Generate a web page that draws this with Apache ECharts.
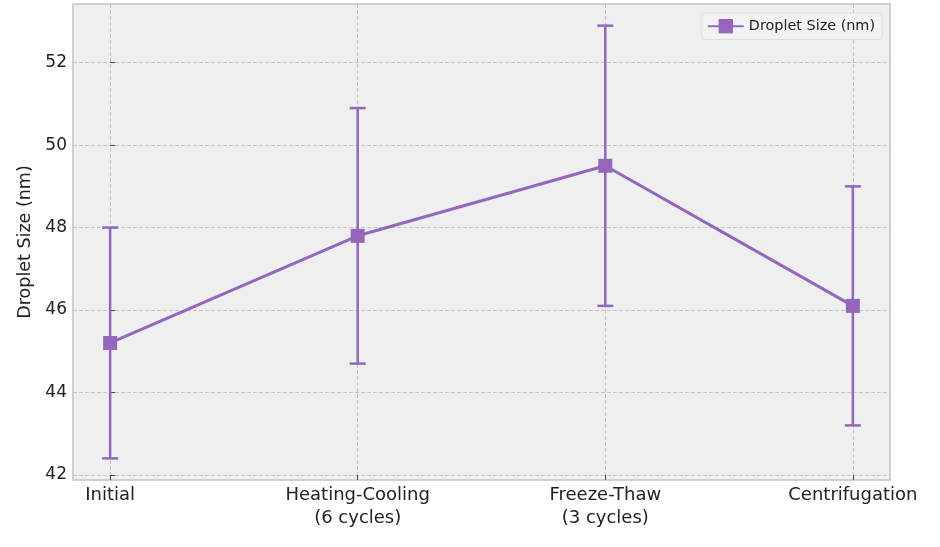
<!DOCTYPE html>
<html>
<head>
<meta charset="utf-8">
<script src="https://cdn.jsdelivr.net/npm/echarts@6/dist/echarts.min.js"></script>
<style>
  html, body { margin: 0; padding: 0; background: #fff; }
  #chart { width: 940px; height: 547px; }
</style>
</head>
<body>
<div id="chart"></div>
<script>
// data
var categories = ['Initial', 'Heating-Cooling\n(6 cycles)', 'Freeze-Thaw\n(3 cycles)', 'Centrifugation'];
var meanSize = [45.2, 47.8, 49.5, 46.1];
var errSize = [2.8, 3.1, 3.4, 2.9];
var yTicks = [42, 44, 46, 48, 50, 52];
var xTicks = [0, 1, 2, 3];

var purple = '#9467bd';
var font = 'DejaVu Sans';

var lineData = [];
var errData = [];
for (var i = 0; i < meanSize.length; i++) {
    lineData.push([i, meanSize[i]]);
    errData.push([i, meanSize[i] - errSize[i], meanSize[i] + errSize[i]]);
}

var chart = echarts.init(document.getElementById('chart'));
var option = {
    backgroundColor: '#ffffff',
    textStyle: { fontFamily: font },
    grid: {
        left: 73, right: 50, top: 4, bottom: 67,
        show: true,
        backgroundColor: '#efefef',
        borderColor: '#d0d0d0',
        borderWidth: 2
    },
    legend: {
        top: 13, right: 58,
        data: ['Droplet Size (nm)'],
        backgroundColor: '#f3f3f3',
        borderColor: '#dcdcdc',
        borderWidth: 1,
        borderRadius: 3,
        padding: [6, 7, 6, 5],
        itemWidth: 36, itemHeight: 18,
        itemGap: 8,
        textStyle: { fontFamily: font, fontSize: 14.4, color: '#222' }
    },
    xAxis: {
        type: 'value',
        min: -0.15, max: 3.15,
        axisLine: { show: false },
        axisTick: { show: true, inside: true, length: 5, customValues: xTicks, lineStyle: { color: '#444' } },
        axisLabel: {
            customValues: xTicks,
            margin: 4,
            fontSize: 18, color: '#222', lineHeight: 23,
            formatter: function (v) { return categories[Math.round(v)]; }
        },
        splitLine: { show: true, lineStyle: { type: 'dashed', color: '#c4c4c4', width: 1 } }
    },
    yAxis: {
        type: 'value',
        min: 41.875, max: 53.425,
        name: 'Droplet Size (nm)',
        nameLocation: 'middle',
        nameGap: 36,
        nameTextStyle: { fontFamily: font, fontSize: 17.5, color: '#222' },
        axisLine: { show: false },
        axisTick: { show: true, inside: true, length: 5, customValues: yTicks, lineStyle: { color: '#444' } },
        axisLabel: { customValues: yTicks, margin: 6, fontSize: 17, color: '#222' },
        splitLine: { show: true, lineStyle: { type: 'dashed', color: '#c4c4c4', width: 1 } }
    },
    series: [
        {
            name: 'Droplet Size (nm)',
            type: 'line',
            data: lineData,
            symbol: 'rect',
            symbolSize: 14,
            itemStyle: { color: purple },
            lineStyle: { color: purple, width: 3 },
            z: 3
        },
        {
            name: 'error',
            type: 'custom',
            data: errData,
            renderItem: function (params, api) {
                var x = api.value(0);
                var lo = api.coord([x, api.value(1)]);
                var hi = api.coord([x, api.value(2)]);
                var cap = 8;
                var style = { stroke: purple, lineWidth: 2.5 };
                return {
                    type: 'group',
                    children: [
                        { type: 'line', shape: { x1: lo[0], y1: lo[1], x2: hi[0], y2: hi[1] }, style: style },
                        { type: 'line', shape: { x1: lo[0] - cap, y1: lo[1], x2: lo[0] + cap, y2: lo[1] }, style: style },
                        { type: 'line', shape: { x1: hi[0] - cap, y1: hi[1], x2: hi[0] + cap, y2: hi[1] }, style: style }
                    ]
                };
            },
            z: 4
        }
    ]
};
chart.setOption(option);
</script>
</body>
</html>
